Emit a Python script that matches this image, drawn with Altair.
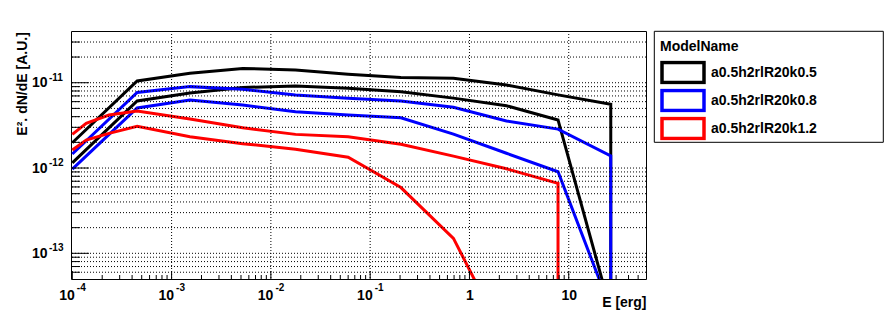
import altair as alt
import pandas as pd

# ---------------- data ----------------
MODELS = ["a0.5h2rlR20k0.5", "a0.5h2rlR20k0.8", "a0.5h2rlR20k1.2"]
COLORS = ["#000000", "#0000ff", "#ff0000"]

E_GRID = [1e-4, 4.5e-4, 1.53e-3, 5.2e-3, 0.0177, 0.060, 0.204, 0.69, 2.36, 7.8, 26.5]
E_RED = [1e-4, 1.38e-4, 2.34e-4, 4.5e-4, 1.53e-3, 5.2e-3, 0.0177, 0.060, 0.204, 0.69, 2.36, 7.8]

K05_UPPER_E = E_GRID + [26.5]
K05_UPPER = [1.98e-12, 1.05e-11, 1.29e-11, 1.47e-11, 1.41e-11, 1.26e-11, 1.15e-11,
             1.13e-11, 9.4e-12, 7.2e-12, 5.58e-12, 1e-15]
K05_LOWER_E = E_GRID
K05_LOWER = [1.15e-12, 6.1e-12, 7.57e-12, 8.8e-12, 9.15e-12, 8.6e-12, 7.85e-12,
             6.6e-12, 5.37e-12, 3.66e-12, 2.1e-14]
K08_UPPER_E = E_GRID + [26.5]
K08_UPPER = [1.46e-12, 7.7e-12, 9.0e-12, 8.4e-12, 7.18e-12, 6.56e-12, 6.1e-12,
             5.15e-12, 3.56e-12, 2.86e-12, 1.39e-12, 1e-15]
K08_LOWER_E = E_GRID
K08_LOWER = [9.7e-13, 5.05e-12, 6.27e-12, 5.48e-12, 4.57e-12, 4.18e-12, 3.89e-12,
             2.5e-12, 1.49e-12, 9.05e-13, 2.2e-14]
K12_UPPER_E = E_RED + [7.8]
K12_UPPER = [2.48e-12, 3.34e-12, 4.18e-12, 4.66e-12, 3.75e-12, 2.96e-12, 2.48e-12,
             2.33e-12, 1.9e-12, 1.38e-12, 9.8e-13, 6.62e-13, 1e-15]
K12_LOWER_E = E_RED[:-1]
K12_LOWER = [1.63e-12, 2.13e-12, 2.55e-12, 3.08e-12, 2.33e-12, 1.93e-12, 1.66e-12,
             1.34e-12, 5.9e-13, 1.5e-13, 9e-15]

X_MAJOR = [1e-4, 1e-3, 1e-2, 0.1, 1, 10]
X_EXP_VALUES = [1e-4, 1e-3, 1e-2, 0.1]
X_EXP = ["-4", "-3", "-2", "-1"]
Y_MAJOR = [1e-13, 1e-12, 1e-11]
Y_EXP = ["-13", "-12", "-11"]

X_DOMAIN = [9.7e-5, 60]
Y_DOMAIN = [5e-14, 4.04e-11]

X_MINOR = [m * 10.0 ** d for d in range(-4, 2) for m in range(2, 10)
           if m * 10.0 ** d < X_DOMAIN[1]]
Y_MINOR = [m * 10.0 ** d for d in range(-14, -10) for m in range(2, 10)
           if Y_DOMAIN[0] < m * 10.0 ** d < 3.9e-11]

# ---------------- tables ----------------
curves = [
    (MODELS[0], "k05a", K05_UPPER_E, K05_UPPER),
    (MODELS[0], "k05b", K05_LOWER_E, K05_LOWER),
    (MODELS[1], "k08a", K08_UPPER_E, K08_UPPER),
    (MODELS[1], "k08b", K08_LOWER_E, K08_LOWER),
    (MODELS[2], "k12a", K12_UPPER_E, K12_UPPER),
    (MODELS[2], "k12b", K12_LOWER_E, K12_LOWER),
]
rows = []
for model, cid, es, fs in curves:
    for i, (e, f) in enumerate(zip(es, fs)):
        rows.append({"model": model, "curve": cid, "E": e, "F": f, "idx": i})
df = pd.DataFrame(rows)

FONT = "Liberation Sans"
W, H = 575, 248

xsc = alt.Scale(type="log", domain=X_DOMAIN, nice=False)
ysc = alt.Scale(type="log", domain=Y_DOMAIN, nice=False)

x_axis = alt.Axis(
    values=X_MAJOR, grid=False, ticks=False, tickSize=0, domain=False,
    labelExpr="datum.value < 0.5 ? '10' : (datum.value > 5 ? '10' : '1')",
    labelAlign={"condition": {"test": "datum.value < 0.5", "value": "right"}, "value": "center"},
    labelOffset={"condition": {"test": "datum.value < 0.5", "value": 2}, "value": 0},
    labelBaseline="alphabetic", labelPadding=20.5,
    labelFont=FONT, labelFontSize=14, labelFontWeight="bold", labelColor="black",
    title="E [erg]", titleFont=FONT, titleFontSize=14, titleFontWeight="bold",
    titleColor="black", titleAnchor="end", titleAlign="right", titleBaseline="alphabetic",
    titleX=W, titleY=27)
y_axis = alt.Axis(
    values=Y_MAJOR, grid=False, ticks=False, tickSize=0, domain=False,
    labelExpr="'10'", labelAlign="right", labelBaseline="middle", labelPadding=24,
    labelFont=FONT, labelFontSize=14, labelFontWeight="bold", labelColor="black",
    title="E². dN/dE [A.U.]", titleFont=FONT, titleFontSize=14, titleFontWeight="bold",
    titleColor="black", titleAnchor="end", titleAngle=270, titleAlign="right",
    titleBaseline="middle", titleX=-48.5, titleY=0.7)


def X(field):
    return alt.X(field, scale=xsc, axis=x_axis)


def Y(field):
    return alt.Y(field, scale=ysc, axis=y_axis)


ygrid_df = pd.DataFrame({"v": Y_MAJOR + Y_MINOR})
xgrid_df = pd.DataFrame({"v": X_MAJOR[1:]})

grid_y = alt.Chart(ygrid_df).mark_rule(color="black", strokeWidth=1, strokeDash=[1, 2]).encode(
    y=Y("v:Q"))
grid_x = alt.Chart(xgrid_df).mark_rule(color="black", strokeWidth=1, strokeDash=[1, 2]).encode(
    x=X("v:Q"))

ytick_major = alt.Chart(pd.DataFrame({"v": Y_MAJOR})).mark_rule(color="black", strokeWidth=1).encode(
    y=Y("v:Q"), x=alt.value(0), x2=alt.value(18))
ytick_minor = alt.Chart(pd.DataFrame({"v": Y_MINOR})).mark_rule(color="black", strokeWidth=1).encode(
    y=Y("v:Q"), x=alt.value(0), x2=alt.value(9))
xtick_major = alt.Chart(pd.DataFrame({"v": X_MAJOR})).mark_rule(color="black", strokeWidth=1).encode(
    x=X("v:Q"), y=alt.value(H), y2=alt.value(H - 8))
xtick_minor = alt.Chart(pd.DataFrame({"v": X_MINOR})).mark_rule(color="black", strokeWidth=1).encode(
    x=X("v:Q"), y=alt.value(H), y2=alt.value(H - 4))

lines = alt.Chart(df).mark_line(strokeWidth=3, clip=True).encode(
    x=X("E:Q"),
    y=Y("F:Q"),
    color=alt.Color("model:N", scale=alt.Scale(domain=MODELS, range=COLORS), legend=alt.Legend(
        orient="none", legendX=589, legendY=8.5, padding=0, title="ModelName",
        titleFont=FONT, titleFontSize=14, titleFontWeight="bold", titleColor="black",
        titlePadding=7, labelFont=FONT, labelFontSize=14, labelFontWeight="bold",
        labelColor="black", labelOffset=5,
        symbolType="M-1,-0.476L1,-0.476L1,0.476L-1,0.476Z", symbolSize=1764,
        symbolStrokeWidth=3.5, symbolFillColor="transparent", symbolOpacity=1,
        clipHeight=24, rowPadding=4)),
    detail="curve:N",
    order=alt.Order("idx:Q"),
)

sup_y = alt.Chart(pd.DataFrame({"v": Y_MAJOR, "t": Y_EXP})).mark_text(
    font=FONT, fontSize=10, fontWeight="bold", color="black", align="left",
    baseline="middle", dy=-5).encode(
    y=Y("v:Q"), x=alt.value(-22), text="t:N")
sup_x = alt.Chart(pd.DataFrame({"v": X_EXP_VALUES, "t": X_EXP})).mark_text(
    font=FONT, fontSize=10, fontWeight="bold", color="black", align="left",
    baseline="alphabetic", dx=4.5).encode(
    x=X("v:Q"), y=alt.value(H + 11.5), text="t:N")

legend_frame = alt.Chart(pd.DataFrame({"a": [0]})).mark_rect(
    fillOpacity=0, stroke="black", strokeWidth=1).encode(
    x=alt.value(583.3), x2=alt.value(812.3), y=alt.value(0.3), y2=alt.value(111.3))

chart = alt.layer(
    lines, grid_y, grid_x, ytick_major, ytick_minor, xtick_major, xtick_minor,
    sup_y, sup_x, legend_frame,
).properties(
    width=W, height=H,
    autosize=alt.AutoSizeParams(type="none"),
    padding={"left": 63, "top": 23, "right": 242, "bottom": 31},
    background="white",
).configure_view(stroke="black", strokeWidth=1)

chart.save("out.html", embed_options={"renderer": "svg", "actions": False})
